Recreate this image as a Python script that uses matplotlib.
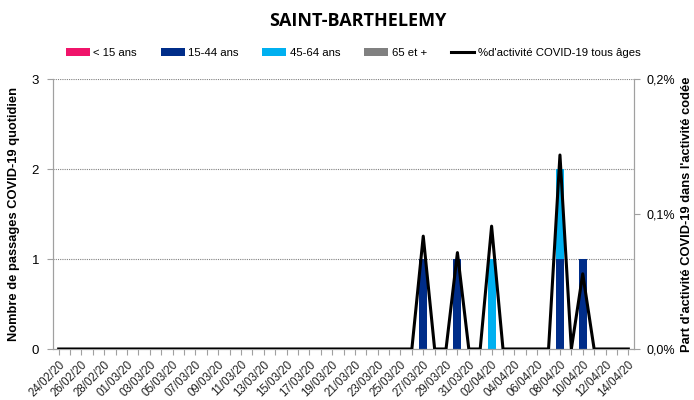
import matplotlib
matplotlib.use("Agg")
import matplotlib.pyplot as plt
import numpy as np
import pandas as pd
from matplotlib.ticker import FuncFormatter

dates = pd.date_range("2020-02-24", "2020-04-14", freq="D")
labels = [d.strftime("%d/%m/%y") for d in dates]

# counts per age group (non-zero days only)
u15 = {}
a15_44 = {"27/03/20": 1, "30/03/20": 1, "08/04/20": 1, "10/04/20": 1}
a45_64 = {"02/04/20": 1, "08/04/20": 1}
a65 = {}
# % activity, all ages
pct = {"27/03/20": 0.0836, "30/03/20": 0.0714, "02/04/20": 0.091,
       "08/04/20": 0.1437, "10/04/20": 0.0557}

def series(d):
    return np.array([d.get(l, 0) for l in labels], dtype=float)

s_u15 = series(u15)
s_1544 = series(a15_44)
s_4564 = series(a45_64)
s_65 = series(a65)
s_pct = series(pct)

plt.rcParams['font.family'] = ['Liberation Sans', 'DejaVu Sans']

fig = plt.figure(figsize=(6.94, 4.0), dpi=100)
ax = fig.add_axes([53/694, 1-349/400, (634-53)/694, (349-79)/400])
ax2 = ax.twinx()

x = np.arange(len(labels))
w = 0.7
c_u15, c_1544, c_4564, c_65 = "#F0146A", "#002D89", "#00B0F0", "#808080"
ax.bar(x, s_u15, w, color=c_u15, label="< 15 ans")
b = s_u15.copy()
ax.bar(x, s_1544, w, bottom=b, color=c_1544, label="15-44 ans")
b += s_1544
ax.bar(x, s_4564, w, bottom=b, color=c_4564, label="45-64 ans")
b += s_4564
ax.bar(x, s_65, w, bottom=b, color=c_65, label="65 et +")

ln, = ax2.plot(x, s_pct, color="black", lw=2.2, label="%d'activité COVID-19 tous âges", zorder=5)

ax.set_xlim(-0.5, len(labels) - 0.5)
ax.set_ylim(0, 3)
ax2.set_ylim(0, 0.2)
ax.set_yticks([0, 1, 2, 3])
ax2.set_yticks([0, 0.1, 0.2])
ax2.yaxis.set_major_formatter(FuncFormatter(lambda v, p: f"{v:.1f}%".replace(".", ",")))

ax.set_xticks(x)
ax.set_xticklabels([l if i % 2 == 0 else "" for i, l in enumerate(labels)],
                   rotation=45, ha="right", va="top", rotation_mode="anchor", fontsize=8.3, color="#222222")
ax.tick_params(axis="x", length=4, color="#A0A0A0", pad=3)
ax.tick_params(axis="y", length=4, color="#A0A0A0", labelsize=9.5, pad=6)
ax2.tick_params(axis="y", length=4, color="#A0A0A0", labelsize=9, pad=5)

for a in (ax, ax2):
    for sp in ["top"]:
        a.spines[sp].set_visible(False)
    for sp in ["left", "right", "bottom"]:
        a.spines[sp].set_color("#A0A0A0")
ax.grid(axis="y", linestyle=(0, (1, 1)), color="#808080", lw=0.8)
ax.set_axisbelow(True)

ax.set_ylabel("Nombre de passages COVID-19 quotidien", fontsize=9.3, fontweight="bold", labelpad=8)
ax2.set_ylabel("Part d'activité COVID-19 dans l'activité codée", fontsize=9.3, fontweight="bold", labelpad=4)

fig.suptitle("SAINT-BARTHELEMY", x=0.515, y=0.97, fontsize=13, fontweight="bold",
             family=["Open Sans", "DejaVu Sans"])

h1, l1 = ax.get_legend_handles_labels()
leg = fig.legend(h1 + [ln], l1 + [ln.get_label()], loc="center", bbox_to_anchor=(0.509, 0.868),
                 ncol=5, frameon=False, fontsize=8.2, handlelength=2.1, handleheight=0.75,
                 columnspacing=2.1, handletextpad=0.3)

fig.savefig("out.png", dpi=100)
